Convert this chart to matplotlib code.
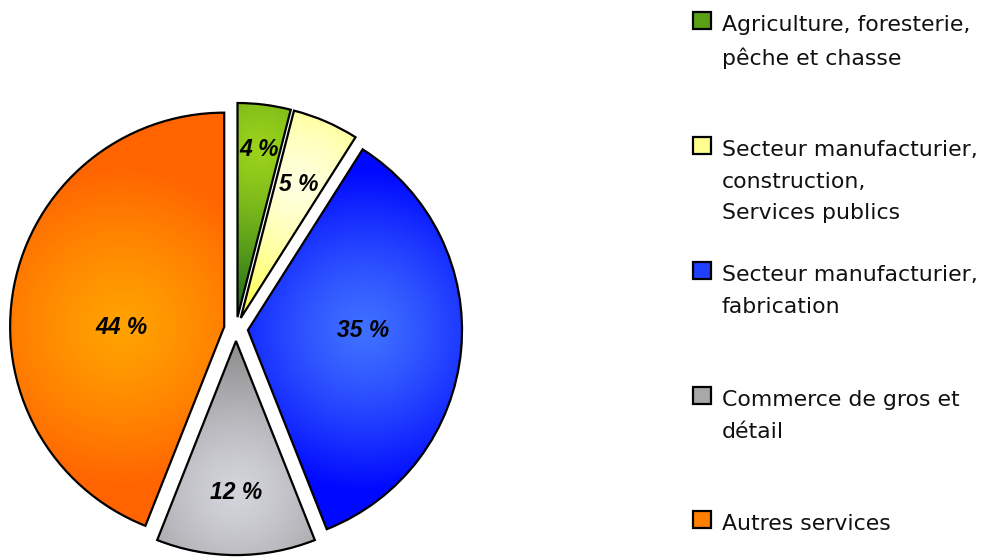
import numpy as np
import matplotlib.pyplot as plt
from matplotlib.colors import LinearSegmentedColormap
from matplotlib.patches import Rectangle

categories = ["Agriculture, foresterie,\npêche et chasse",
              "Secteur manufacturier,\nconstruction,\nServices publics",
              "Secteur manufacturier,\nfabrication",
              "Commerce de gros et\ndétail",
              "Autres services"]
shares = [4, 5, 35, 12, 44]

# light (centre) and dark (edge) colour of each slice
light_cols = ["#9ad21a", "#ffffe0", "#3f70ff", "#d4d4dc", "#ffa200"]
dark_cols = ["#22701a", "#ffff30", "#0008ff", "#858585", "#ff6400"]
legend_cols = ["#5aa014", "#ffff90", "#2040ff", "#a8a8a8", "#ff8000"]
label_dist = [0.79, 0.68, 0.54, 0.71, 0.48]
label_turn = [0, 0, 5, 0, 11]   # degrees, nudges label off the mid angle

W, H = 992, 557
fig = plt.figure(figsize=(W / 100, H / 100), dpi=100)
ax = fig.add_axes([0.5 / W, -7.5 / H, 471 / W, 471 / H])

wedges, _ = ax.pie(shares, startangle=90, counterclock=False,
                   explode=[0.056] * len(shares), radius=1.0,
                   wedgeprops=dict(edgecolor="black", linewidth=1.6, facecolor="none"))
lim = 1.1

xs = np.linspace(-lim, lim, 500)
gx, gy = np.meshgrid(xs, xs[::-1])
for i, w in enumerate(wedges):
    w.set_zorder(3)
    cx, cy = w.center
    mid = np.deg2rad((w.theta1 + w.theta2) / 2 + label_turn[i])
    fx, fy = cx + label_dist[i] * np.cos(mid), cy + label_dist[i] * np.sin(mid)
    d = np.hypot(gx - fx, gy - fy)
    d = np.clip(d / 0.75, 0, 1) ** 1.3
    cmap = LinearSegmentedColormap.from_list("g", [light_cols[i], dark_cols[i]])
    im = ax.imshow(d, cmap=cmap, vmin=0, vmax=1, extent=(-lim, lim, -lim, lim),
                   zorder=2, interpolation="bilinear")
    im.set_clip_path(w)
    ax.text(fx, fy, f"{shares[i]} %", ha="center", va="center",
            fontsize=16.5, fontweight="bold", fontstyle="italic",
            family="Liberation Sans", zorder=4)
ax.set_xlim(-lim, lim)
ax.set_ylim(-lim, lim)
ax.axis("off")

# legend drawn by hand to keep the uneven spacing
line_y = [25, 150, 275, 400, 524]
for cat, col, y in zip(categories, legend_cols, line_y):
    fig.patches.append(Rectangle((693 / W, 1 - (y + 4) / H), 18 / W, 17 / H,
                                 transform=fig.transFigure, facecolor=col,
                                 edgecolor="black", linewidth=1.6))
    fig.text(722 / W, 1 - (y - 10) / H, cat, ha="left", va="top",
             fontsize=15.8, family="DejaVu Sans", color="#111111", linespacing=1.72)

fig.savefig("out.png", dpi=100)
